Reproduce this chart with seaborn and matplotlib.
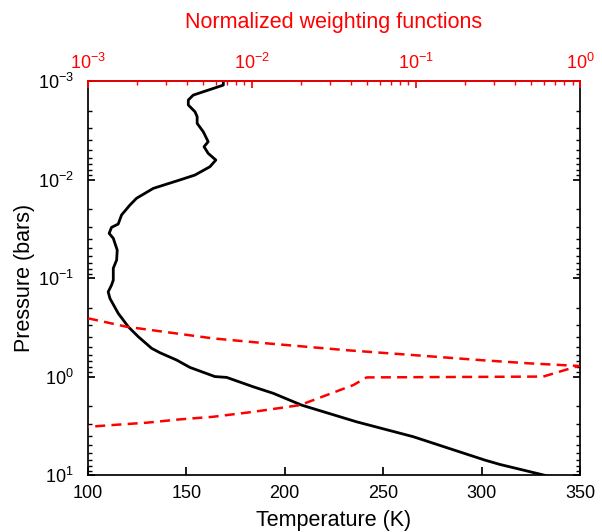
import numpy as np
import pandas as pd
import seaborn as sns
import matplotlib.pyplot as plt
from matplotlib.ticker import LogLocator, NullFormatter

sns.set_theme(style="ticks", rc={'text.color': 'black', 'axes.labelcolor': 'black',
                                 'xtick.color': 'black', 'ytick.color': 'black',
                                 'axes.edgecolor': 'black'})
plt.rcParams['font.family'] = ['Liberation Sans', 'DejaVu Sans']
plt.rcParams['mathtext.fontset'] = 'custom'
plt.rcParams['mathtext.rm'] = 'Liberation Sans'

# temperature profile (K) vs pressure (bars)
temp = [168.8, 168.8, 153.5, 151.0, 151.0, 154.4, 155.5, 155.5, 158.6, 161.1, 159.0, 161.1,
        165.0, 162.0, 154.4, 146.7, 133.2, 124.7, 121.3, 117.1, 115.4, 112.0, 110.8, 112.9,
        114.9, 114.6, 112.9, 112.9, 112.0, 110.3, 111.2, 115.4, 120.5, 125.6, 132.4, 136.6,
        145.1, 151.8, 164.5, 170.5, 184.0, 194.2, 208.6, 236.5, 265.3, 301.7, 309.3, 336.0]
pres = [1.0e-3, 1.1e-3, 1.39e-3, 1.56e-3, 1.75e-3, 2.05e-3, 2.3e-3, 2.69e-3, 3.27e-3, 4.13e-3,
        4.64e-3, 5.42e-3, 6.34e-3, 7.41e-3, 9.0e-3, 1.01e-2, 1.23e-2, 1.55e-2, 1.82e-2, 2.29e-2,
        2.83e-2, 3.06e-2, 3.52e-2, 3.95e-2, 5.2e-2, 6.56e-2, 7.95e-2, 0.105, 0.118, 0.138,
        0.161, 0.228, 0.312, 0.394, 0.517, 0.573, 0.68, 0.807, 1.0, 1.02, 1.27, 1.48, 1.95,
        2.88, 4.08, 7.05, 7.8, 10.5]

# normalized weighting function vs pressure
wf = [8e-4, 1.0e-3, 1.72e-3, 5.8e-3, 0.0123, 0.0377, 0.096, 0.245, 0.495, 0.98,
      0.597, 0.05, 0.0415, 0.0196, 0.0102, 5.8e-3, 3.64e-3, 2.28e-3, 1.43e-3, 1.0e-3, 8e-4]
wf_pres = [0.245, 0.256, 0.312, 0.41, 0.46, 0.54, 0.605, 0.68, 0.735, 0.78,
           1.0, 1.02, 1.22, 1.95, 2.28, 2.56, 2.72, 2.94, 3.1, 3.24, 3.3]

profile = pd.DataFrame({'T': temp, 'P': pres})
weights = pd.DataFrame({'W': wf, 'P': wf_pres})

fig = plt.figure(figsize=(6.02, 5.32), dpi=100)
ax = fig.add_axes([0.146, 0.107, 0.8175, 0.7407])

sns.lineplot(data=profile, x='T', y='P', sort=False, estimator=None, color='black', lw=2.0, ax=ax)
ax.set_yscale('log')
ax.set_ylim(10, 1e-3)
ax.set_xlim(100, 350)
ax.set_xticks([100, 150, 200, 250, 300, 350])
ax.set_xlabel('Temperature (K)', fontsize=15.5, labelpad=6)
ax.set_ylabel('Pressure (bars)', fontsize=15.5, labelpad=2)
ax.tick_params(axis='both', which='both', direction='in', labelsize=13)
ax.tick_params(axis='y', which='both', right=True, pad=10)
ax.tick_params(axis='x', which='both', top=False, pad=7)
ax.yaxis.set_major_locator(LogLocator(base=10, numticks=10))
ax.yaxis.set_minor_locator(LogLocator(base=10, subs=np.arange(2, 10), numticks=10))
ax.yaxis.set_minor_formatter(NullFormatter())
ax.tick_params(axis='y', which='major', length=5)
ax.tick_params(axis='y', which='minor', length=3)

ax2 = ax.twiny()
sns.lineplot(data=weights, x='W', y='P', sort=False, estimator=None, color='red', lw=1.8,
             linestyle=(0, (4, 2.5)), ax=ax2)
ax2.set_xscale('log')
ax2.set_xlim(1e-3, 1)
ax2.set_ylim(10, 1e-3)
ax2.set_xlabel('Normalized weighting functions', fontsize=15.5, color='red', labelpad=18)
ax2.set_ylabel('')
ax2.xaxis.set_major_locator(LogLocator(base=10, numticks=10))
ax2.xaxis.set_minor_locator(LogLocator(base=10, subs=np.arange(2, 10), numticks=10))
ax2.xaxis.set_minor_formatter(NullFormatter())
ax2.tick_params(axis='x', which='both', direction='in', colors='red', labelsize=13, pad=6)
ax2.tick_params(axis='x', which='major', length=5)
ax2.tick_params(axis='x', which='minor', length=3)
ax2.spines['top'].set_color('red')
for s in ['left', 'right', 'bottom']:
    ax2.spines[s].set_visible(False)

plt.savefig('out.png', dpi=100)
